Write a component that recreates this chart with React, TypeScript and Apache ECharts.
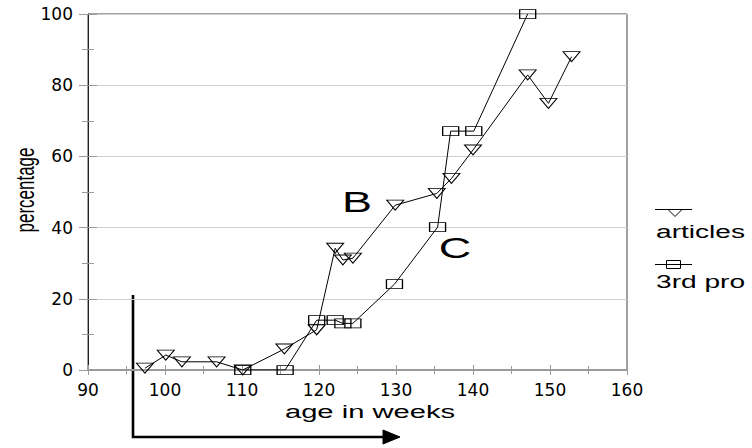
import React, { useEffect, useRef } from "react";
import * as echarts from "echarts";

// ---- data ----
const articlesWeeks = [97.4, 100.1, 102.2, 106.7, 110.1, 115.5, 119.7, 122.1, 123.1, 124.4, 129.9, 135.3, 137.2, 140, 147.1, 149.8, 152.8];
const articlesPct = [0.5, 4.2, 2.3, 2.3, 0, 5.9, 11.3, 34.2, 30.9, 31.4, 46.3, 49.6, 53.8, 61.8, 82.9, 74.9, 88];
const thirdWeeks = [110.1, 115.6, 119.7, 122.1, 123.1, 124.4, 129.8, 135.4, 137.1, 140.1, 147.1];
const thirdPct = [0, 0, 14, 14, 13.1, 13.1, 24.1, 40.1, 67.1, 67.1, 100];

const xMin = 90;
const xMax = 160;
const xStep = 10;
const yMin = 0;
const yMax = 100;
const yStep = 20;

const seriesNames = ["articles", "3rd pro"];
const xAxisTitle = "age in weeks";
const yAxisTitle = "percentage";
const curveLabels = ["B", "C"];

const TRI = "path://M0 0L16 0L8 10Z";
const tickGrey = "#9a9a9a";
const sans = "Liberation Sans";

export default function App() {
  const ref = useRef<HTMLDivElement>(null);
  useEffect(() => {
    if (!ref.current) return;
    const chart = echarts.init(ref.current, undefined, { renderer: "svg" });
    const labelStyle = { fontSize: 17, fontFamily: "DejaVu Sans", color: "#000" };
    const xBase = {
      type: "value" as const,
      min: xMin,
      max: xMax,
      interval: xStep,
      position: "bottom" as const,
      splitLine: { show: false },
    };
    const yBase = {
      type: "value" as const,
      min: yMin,
      max: yMax,
      interval: yStep,
      position: "left" as const,
    };
    chart.setOption({
      animation: false,
      backgroundColor: "#fff",
      grid: {
        left: 88,
        right: 125,
        top: 14,
        bottom: 78,
        show: true,
        borderColor: "#444",
        borderWidth: 1,
        backgroundColor: "transparent",
      },
      xAxis: [
        {
          ...xBase,
          axisLine: { show: true, lineStyle: { color: tickGrey, width: 2 } },
          axisTick: { show: true, length: 5, lineStyle: { color: tickGrey } },
          minorTick: { show: true, splitNumber: 2, length: 4, lineStyle: { color: tickGrey } },
          axisLabel: { ...labelStyle, margin: 11 },
        },
        {
          ...xBase,
          axisLine: { show: false },
          axisTick: { show: true, inside: true, length: 5, lineStyle: { color: tickGrey } },
          minorTick: { show: true, splitNumber: 2, length: 4, lineStyle: { color: tickGrey } },
          axisLabel: { show: false },
        },
      ],
      yAxis: [
        {
          ...yBase,
          axisLine: { show: true, lineStyle: { color: "#222", width: 1 } },
          axisTick: { show: true, length: 9, lineStyle: { color: tickGrey } },
          minorTick: { show: true, splitNumber: 2, length: 6, lineStyle: { color: tickGrey } },
          axisLabel: { ...labelStyle, margin: 15 },
          splitLine: { show: true, lineStyle: { color: "#cfcfcf", width: 1 } },
        },
        {
          ...yBase,
          axisLine: { show: false },
          axisTick: { show: true, inside: true, length: 9, lineStyle: { color: tickGrey } },
          minorTick: { show: true, splitNumber: 2, length: 6, lineStyle: { color: tickGrey } },
          axisLabel: { show: false },
          splitLine: { show: false },
        },
      ],
      series: [
        {
          type: "line",
          name: seriesNames[0],
          xAxisIndex: 0,
          yAxisIndex: 0,
          data: articlesWeeks.map((w, i) => [w, articlesPct[i]]),
          symbol: TRI,
          symbolSize: [17, 10],
          symbolKeepAspect: false,
          lineStyle: { color: "#000", width: 1 },
          itemStyle: { color: "rgba(0,0,0,0)", borderColor: "#000", borderWidth: 1 },
          emphasis: { disabled: true },
          z: 3,
        },
        {
          type: "line",
          name: seriesNames[1],
          xAxisIndex: 0,
          yAxisIndex: 0,
          data: thirdWeeks.map((w, i) => [w, thirdPct[i]]),
          symbol: "rect",
          symbolSize: [16, 9],
          lineStyle: { color: "#000", width: 1 },
          itemStyle: { color: "rgba(0,0,0,0)", borderColor: "#000", borderWidth: 1 },
          emphasis: { disabled: true },
          z: 3,
        },
      ],
      graphic: [
        // axis titles
        {
          type: "text",
          x: 370,
          y: 412,
          scaleX: 1.62,
          style: { text: xAxisTitle, fontSize: 18, fontFamily: sans, fill: "#000", align: "center", verticalAlign: "middle" },
        },
        {
          type: "text",
          x: 25,
          y: 190,
          rotation: Math.PI / 2,
          scaleY: 1.5,
          style: { text: yAxisTitle, fontSize: 17, fontFamily: sans, fill: "#000", align: "center", verticalAlign: "middle" },
        },
        // curve labels
        {
          type: "text",
          x: 357,
          y: 201,
          scaleX: 1.5,
          style: { text: curveLabels[0], fontSize: 30, fontFamily: sans, fill: "#000", align: "center", verticalAlign: "middle" },
        },
        {
          type: "text",
          x: 455,
          y: 248,
          scaleX: 1.55,
          style: { text: curveLabels[1], fontSize: 29, fontFamily: sans, fill: "#000", align: "center", verticalAlign: "middle" },
        },
        // legend: articles
        { type: "line", shape: { x1: 655, y1: 209.5, x2: 692, y2: 209.5 }, style: { stroke: "#000", lineWidth: 1 } },
        {
          type: "polygon",
          shape: { points: [[668, 209.5], [682, 209.5], [675, 216.5]] },
          style: { stroke: "#000", fill: "none", lineWidth: 1 },
        },
        {
          type: "text",
          x: 656,
          y: 231,
          scaleX: 1.48,
          style: { text: seriesNames[0], fontSize: 19, fontFamily: sans, fill: "#000", align: "left", verticalAlign: "middle" },
        },
        // legend: 3rd pro
        { type: "line", shape: { x1: 655, y1: 264.5, x2: 692, y2: 264.5 }, style: { stroke: "#000", lineWidth: 1 } },
        {
          type: "rect",
          shape: { x: 666.5, y: 260.5, width: 14, height: 8 },
          style: { stroke: "#000", fill: "none", lineWidth: 1 },
        },
        {
          type: "text",
          x: 656,
          y: 281,
          scaleX: 1.48,
          style: { text: seriesNames[1], fontSize: 19, fontFamily: sans, fill: "#000", align: "left", verticalAlign: "middle" },
        },
        // arrow annotation
        {
          type: "polyline",
          shape: { points: [[133, 295], [133, 437], [385, 437]] },
          style: { stroke: "#000", lineWidth: 2.6, fill: "none" },
        },
        {
          type: "polygon",
          shape: { points: [[383, 430], [400, 437], [383, 444]] },
          style: { fill: "#000", stroke: "#000" },
        },
      ],
    });
    return () => chart.dispose();
  }, []);
  return (
    <div
      ref={ref}
      style={{ position: "fixed", left: 0, top: 0, width: 752, height: 448, background: "#fff" }}
    />
  );
}
